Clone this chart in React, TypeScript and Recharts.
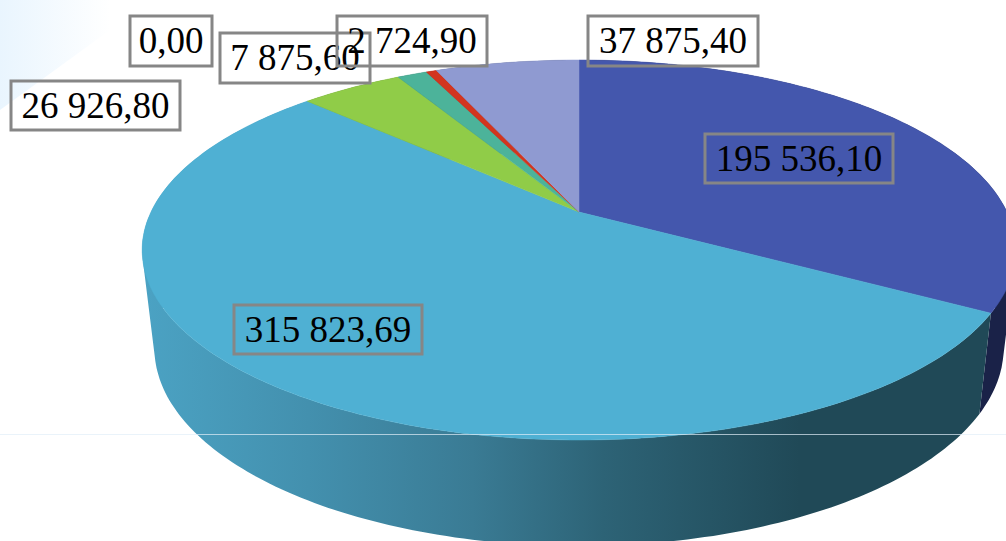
import { PieChart, Pie } from "recharts";

const categories = ["A", "B", "C", "D", "E", "F", "G"];
const values = [195536.1, 315823.69, 26926.8, 0, 7875.6, 2724.9, 37875.4];
const valueLabels = ["195 536,10", "315 823,69", "26 926,80", "0,00", "7 875,60", "2 724,90", "37 875,40"];
const topColors = ["#4457ad", "#4fb0d3", "#90cc48", "#8f9ad1", "#4cb39a", "#d2351f", "#8f9ad1"];
const wallColors = ["#1a2248", "url(#cyanWall)", "#4a6a28", "#4a5070", "#27594d", "#6a1a10", "#4a5070"];

// label frames, same order as values: x, y, w, h
const labelBoxes = [
  [705, 134, 188, 49],
  [234, 305, 188, 49],
  [11, 81, 169, 49],
  [130, 16, 82, 50],
  [220, 33, 150, 50],
  [337, 16, 150, 50],
  [588, 16, 170, 50],
];

const chartData = categories.map((name, i) => ({ name, value: values[i] }));

const CX = 579;
// the pie is seen in perspective, so each rim is a projected circle
const topRim = { y: 212, a: 182.4, b: 428, k: 0.2 };
const bottomRim = { y: 308.5, a: 190, b: 416, k: 0.2 };

const rimPoints = (rim: any, startAngle: number, endAngle: number) => {
  const pts: number[][] = [];
  const steps = Math.max(1, Math.ceil(Math.abs(endAngle - startAngle)));
  for (let i = 0; i <= steps; i++) {
    const t = ((startAngle + ((endAngle - startAngle) * i) / steps) * Math.PI) / 180;
    const u = Math.cos(t);
    const v = -Math.sin(t);
    const d = 1 - rim.k * v;
    pts.push([CX + (rim.b * u) / d, rim.y + (rim.a * v) / d]);
  }
  return pts;
};

const TopSlice = ({ startAngle, endAngle, index }: any) => {
  if (startAngle === endAngle) return null;
  const pts = rimPoints(topRim, startAngle, endAngle).map((p) => `${p[0].toFixed(1)},${p[1].toFixed(1)}`);
  const d = `M${CX},${topRim.y}L${pts.join("L")}Z`;
  return <path d={d} fill={topColors[index]} stroke={topColors[index]} strokeWidth={0.5} />;
};

// the wall folds over at the silhouette, so every quad gets the same winding
const WallSlice = ({ startAngle, endAngle, index }: any) => {
  if (startAngle === endAngle) return null;
  const upper = rimPoints(topRim, startAngle, endAngle);
  const lower = rimPoints(bottomRim, startAngle, endAngle);
  let d = "";
  for (let i = 0; i < upper.length - 1; i++) {
    const quad = [upper[i], upper[i + 1], lower[i + 1], lower[i]];
    let area = 0;
    quad.forEach((p, j) => {
      const q = quad[(j + 1) % 4];
      area += p[0] * q[1] - q[0] * p[1];
    });
    if (area < 0) quad.reverse();
    d += `M${quad.map((p) => `${p[0].toFixed(1)},${p[1].toFixed(1)}`).join("L")}Z`;
  }
  return <path d={d} fill={wallColors[index]} />;
};

const renderLabel = ({ index }: any) => {
  const [x, y, w, h] = labelBoxes[index];
  return (
    <g key={`label-${index}`}>
      <rect x={x} y={y} width={w} height={h} fill="none" stroke="#868686" strokeWidth={3} />
      <text
        x={x + w / 2}
        y={y + h / 2 + 12}
        textAnchor="middle"
        fontFamily="'Liberation Serif', serif"
        fontSize={37}
        fill="#000"
      >
        {valueLabels[index]}
      </text>
    </g>
  );
};

export default function App() {
  return (
    <div style={{ position: "absolute", left: 0, top: 0, width: 1006, height: 541, overflow: "hidden", background: "#fff" }}>
      <div
        style={{
          position: "absolute",
          inset: 0,
          background: "linear-gradient(to right, #e9f5fe 0, #ffffff 110px)",
          clipPath: "polygon(0 0, 110px 0, 110px 30px, 0 110px)",
        }}
      />
      <div style={{ position: "absolute", left: 0, top: 0 }}>
        <PieChart width={1006} height={541} margin={{ top: 0, right: 0, bottom: 0, left: 0 }}>
          <defs>
            <linearGradient id="cyanWall" gradientUnits="userSpaceOnUse" x1={145} y1={0} x2={800} y2={0}>
              <stop offset="0%" stopColor="#4ba2c3" />
              <stop offset="25%" stopColor="#4390ae" />
              <stop offset="50%" stopColor="#3a7b94" />
              <stop offset="70%" stopColor="#2d6376" />
              <stop offset="100%" stopColor="#204957" />
            </linearGradient>
          </defs>
          <Pie
            data={chartData}
            dataKey="value"
            nameKey="name"
            cx={CX}
            cy={bottomRim.y}
            outerRadius={bottomRim.b}
            startAngle={90}
            endAngle={-270}
            stroke="none"
            shape={WallSlice}
            isAnimationActive={false}
            legendType="none"
          />
          <Pie
            data={chartData}
            dataKey="value"
            nameKey="name"
            cx={CX}
            cy={topRim.y}
            outerRadius={topRim.b}
            startAngle={90}
            endAngle={-270}
            stroke="none"
            shape={TopSlice}
            label={renderLabel}
            labelLine={false}
            isAnimationActive={false}
            legendType="none"
          />
        </PieChart>
      </div>
      <div style={{ position: "absolute", left: 0, top: 434, width: 1006, height: 1, background: "rgba(225,238,248,0.7)" }} />
    </div>
  );
}
